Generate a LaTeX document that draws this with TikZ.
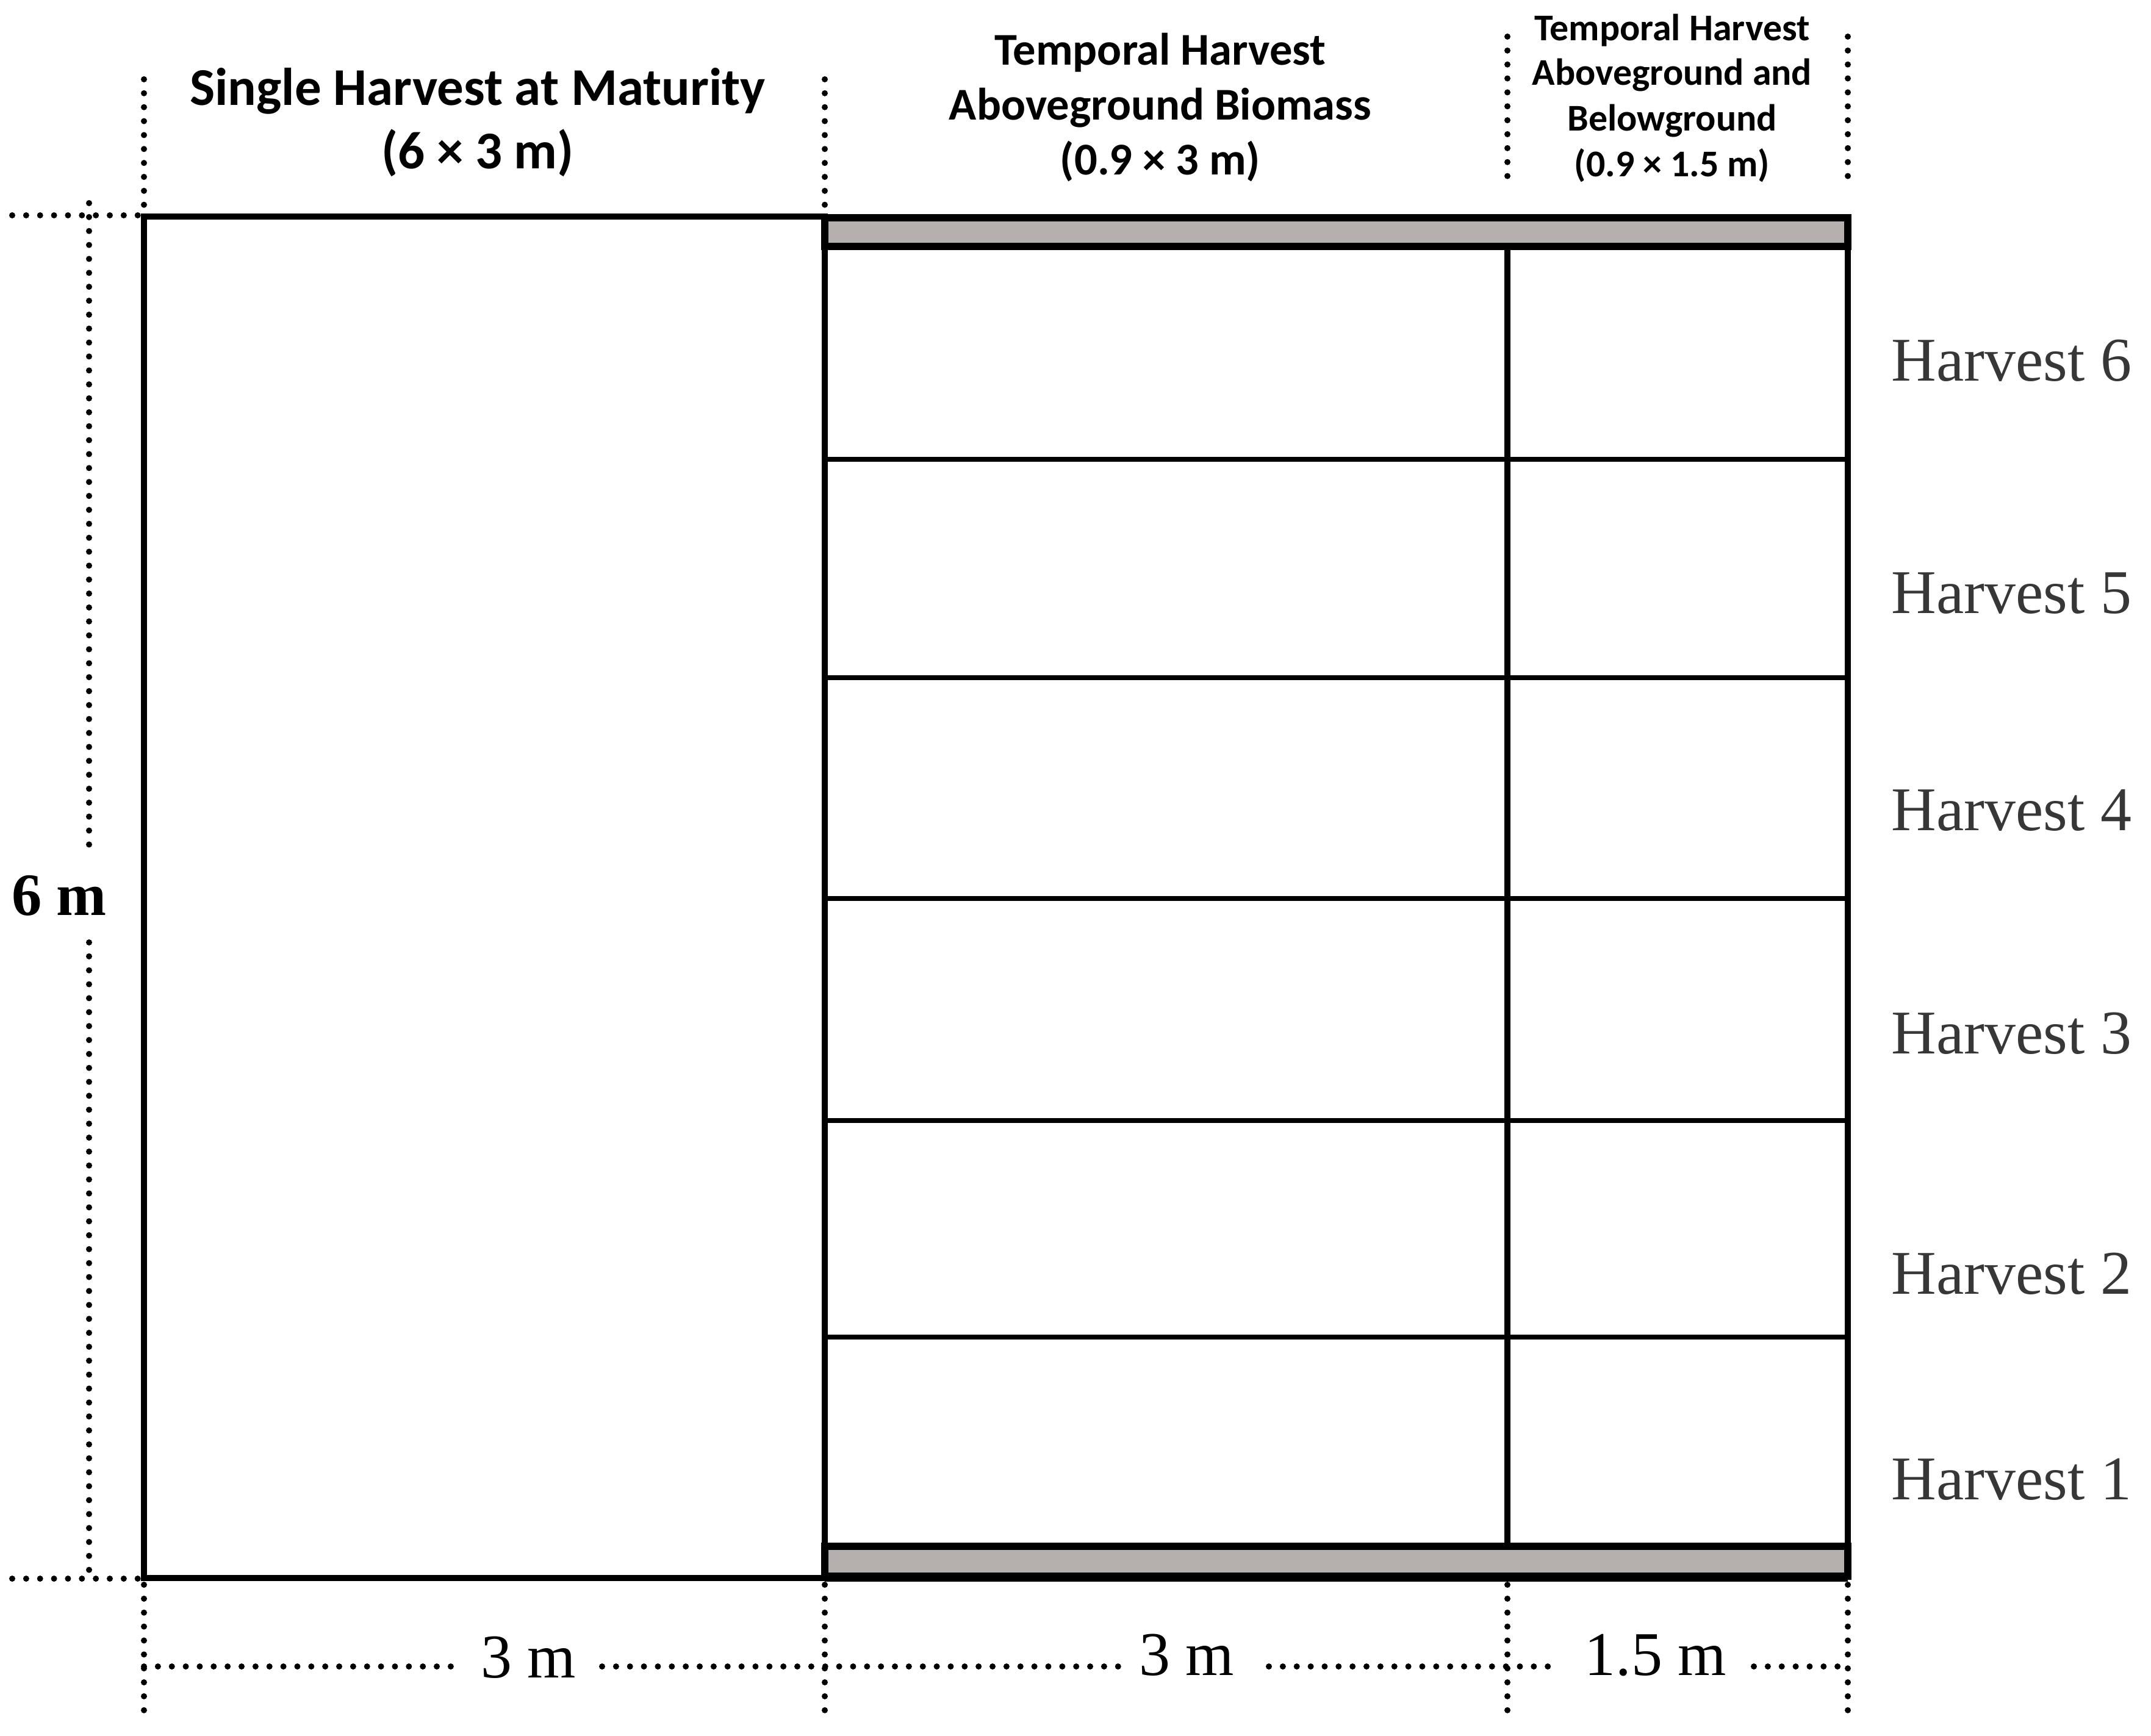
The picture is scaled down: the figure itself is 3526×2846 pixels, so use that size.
\documentclass[tikz,border=0pt]{standalone}
\usepackage{fontspec}
\newfontfamily\calfont{Carlito}
\newfontfamily\timesfont{Liberation Serif}
\definecolor{bargrey}{RGB}{181,176,173}
\definecolor{labgrey}{RGB}{55,55,55}
\begin{document}
\begin{tikzpicture}[x=0.01cm,y=-0.01cm,
  dotline/.style={line width=2.85pt, dash pattern=on 0pt off 6.5pt, line cap=round},
  outer/.style={line width=2.6pt},
  inner/.style={line width=2pt},
  barbox/.style={line width=3.4pt, fill=bargrey},
  ttlA/.style={font=\calfont\bfseries\fontsize{24.75}{29.6}\selectfont, anchor=base, inner sep=0pt},
  ttlB/.style={font=\calfont\bfseries\fontsize{21.2}{25.6}\selectfont, anchor=base, inner sep=0pt},
  ttlC/.style={font=\calfont\bfseries\fontsize{17.6}{21}\selectfont, anchor=base, inner sep=0pt},
  harv/.style={font=\timesfont\fontsize{29}{34}\selectfont, text=labgrey, anchor=base west, inner sep=0pt},
  dimlab/.style={font=\timesfont\fontsize{29}{34}\selectfont, anchor=base, inner sep=0pt}]
\useasboundingbox (0,0) rectangle (3526,2846);

% dotted guide lines
\draw[dotline] (236,130) -- (236,343);
\draw[dotline] (1352,130) -- (1352,343);
\draw[dotline] (2471,60) -- (2471,310);
\draw[dotline] (3029,60) -- (3029,310);
\draw[dotline] (236,2598) -- (236,2807);
\draw[dotline] (1352,2598) -- (1352,2807);
\draw[dotline] (2471,2598) -- (2471,2807);
\draw[dotline] (3029,2598) -- (3029,2807);
\draw[dotline] (20,353) -- (236,353);
\draw[dotline] (20,2588) -- (236,2588);
\draw[dotline] (146,333) -- (146,1392);
\draw[dotline] (146,1545) -- (146,2586);
\draw[dotline] (236,2732) -- (742,2732);
\draw[dotline] (987,2732) -- (1833,2732);
\draw[dotline] (2080,2732) -- (2550,2732);
\draw[dotline] (2875,2732) -- (3029,2732);

% single harvest plot
\draw[outer] (236,355) rectangle (1352,2587);

% temporal harvest grid
\draw[inner] (1352,753) -- (3029,753);
\draw[inner] (1352,1111) -- (3029,1111);
\draw[inner] (1352,1473) -- (3029,1473);
\draw[inner] (1352,1837) -- (3029,1837);
\draw[inner] (1352,2192) -- (3029,2192);
\draw[outer] (2471,404) -- (2471,2535);
\draw[outer] (1352,404) -- (1352,2535);
\draw[outer] (3029,404) -- (3029,2535);
\draw[barbox] (1352,357) rectangle (3029,404);
\draw[barbox] (1352,2535) rectangle (3029,2584);
\draw[outer] (1352,2588) -- (3029,2588);

% titles
\node[ttlA] (t1a) at (783,173) {Single Harvest at Maturity};
\node[ttlA] (t1b) at (783,277) {(6 × 3 m)};
\node[ttlB] (t2a) at (1902,107) {Temporal Harvest};
\node[ttlB] (t2b) at (1902,197) {Aboveground Biomass};
\node[ttlB] (t2c) at (1902,287) {(0.9 × 3 m)};
\node[ttlC] (t3a) at (2741,67) {Temporal Harvest};
\node[ttlC] (t3b) at (2741,140) {Aboveground and};
\node[ttlC] (t3c) at (2741,215) {Belowground};
\node[ttlC] (t3d) at (2741,290) {(0.9 × 1.5 m)};

% harvest labels
\node[harv] (h6) at (3100,625) {Harvest 6};
\node[harv] (h5) at (3100,1005) {Harvest 5};
\node[harv] (h4) at (3100,1361) {Harvest 4};
\node[harv] (h3) at (3100,1727) {Harvest 3};
\node[harv] (h2) at (3100,2121) {Harvest 2};
\node[harv] (h1) at (3100,2458) {Harvest 1};

% dimension labels
\node[dimlab] (d1) at (866,2750) {3 m};
\node[dimlab] (d2) at (1945,2746) {3 m};
\node[dimlab] (d3) at (2714,2746) {1.5 m};
\node[dimlab, font=\timesfont\bfseries\fontsize{28}{34}\selectfont] (d6) at (97,1500) {6 m};
\end{tikzpicture}
\end{document}
